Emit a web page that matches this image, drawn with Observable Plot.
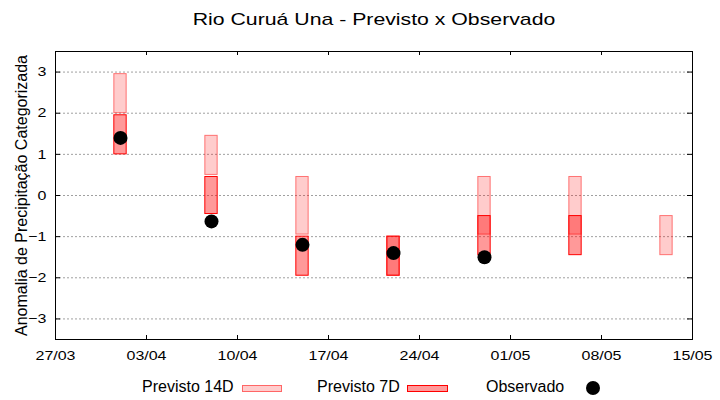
<!DOCTYPE html>
<html><head><meta charset="utf-8">
<script src="https://cdn.jsdelivr.net/npm/d3@7"></script>
<script src="https://cdn.jsdelivr.net/npm/@observablehq/plot@0.6"></script>
<style>
body{margin:0;background:#fff;}
#wrap{position:relative;width:720px;height:400px;font-family:"Liberation Sans",Arial,sans-serif;color:#000;overflow:hidden;background:#fff}
#title{position:absolute;top:11px;left:373.5px;font-size:17px;line-height:17px;white-space:nowrap;transform:translateX(-50%) scaleX(1.25);}
#chart{position:absolute;top:40px;left:0}
.leg{position:absolute;top:378.5px;font-size:16px;line-height:16px;white-space:nowrap}
.sw{position:absolute;box-sizing:border-box;}
</style></head>
<body>
<div id="wrap">
  <div id="title"></div>
  <div id="chart"></div>
  <div id="legend"></div>
</div>
<script>
const title = "Rio Curuá Una - Previsto x Observado";
const yLabel = "Anomalia de Precipitação Categorizada";
const legendLabels = ["Previsto 14D", "Previsto 7D", "Observado"];

const dates = ["2023-04-01","2023-04-08","2023-04-15","2023-04-22","2023-04-29","2023-05-06","2023-05-13"];
const p14Lo = [2.0, 0.5, -0.95, -1.95, -0.95, -0.95, -1.45];
const p14Hi = [2.95, 1.45, 0.45, -1.0, 0.45, 0.45, -0.5];
const p7Lo  = [1.0, -0.45, -1.95, -1.95, -1.45, -1.45, null];
const p7Hi  = [1.95, 0.45, -1.0, -1.0, -0.5, -0.5, null];
const obs   = [1.4, -0.63, -1.2, -1.4, -1.5, null, null];

const xTickDates = ["2023-03-27","2023-04-03","2023-04-10","2023-04-17","2023-04-24","2023-05-01","2023-05-08","2023-05-15"];
const yTickValues = [-3, -2, -1, 0, 1, 2, 3];

const parse = d3.utcParse("%Y-%m-%d");
const rows = dates.map((d, i) => ({date: parse(d), lo14: p14Lo[i], hi14: p14Hi[i], lo7: p7Lo[i], hi7: p7Hi[i], obs: obs[i]}));
const xt = xTickDates.map(parse);
const half = 0.475 * 864e5;
const W = 720, H = 330, mt = 11, mb = 31, ml = 55, mr = 28;
const pw = W - ml - mr, ph = H - mt - mb;

const plot = Plot.plot({
  width: W, height: H, marginTop: mt, marginBottom: mb, marginLeft: ml, marginRight: mr,
  style: {fontFamily: "Liberation Sans, Arial, sans-serif", fontSize: "13px", color: "#000", background: "#fff"},
  x: {type: "utc", domain: [xt[0], xt[xt.length - 1]], ticks: xt, tickFormat: d3.utcFormat("%d/%m"), tickSize: 0, tickPadding: 11, label: null},
  y: {domain: [-3.5, 3.5], ticks: yTickValues, tickFormat: d3.format("d"), tickSize: 0, tickPadding: 9, label: null},
  marks: [
    Plot.ruleY(yTickValues, {y: d => d, stroke: "#a0a0a0", strokeDasharray: "2,2"}),
    Plot.rect(rows.filter(r => r.lo7 != null), {x1: r => new Date(+r.date - half), x2: r => new Date(+r.date + half), y1: "lo7", y2: "hi7", fill: "red", fillOpacity: 0.4, stroke: "red"}),
    Plot.rect(rows, {x1: r => new Date(+r.date - half), x2: r => new Date(+r.date + half), y1: "lo14", y2: "hi14", fill: "red", fillOpacity: 0.2, stroke: "red", strokeOpacity: 0.5}),
    Plot.dot(rows.filter(r => r.obs != null), {x: "date", y: "obs", r: 7, fill: "black"}),
    Plot.frame({stroke: "black"}),
    Plot.tickX(xt, {x: d => d, insetTop: ph - 4, stroke: "black"}),
    Plot.tickX(xt, {x: d => d, insetBottom: ph - 4, stroke: "black"}),
    Plot.tickY(yTickValues, {y: d => d, insetRight: pw - 5, stroke: "black"}),
    Plot.tickY(yTickValues, {y: d => d, insetLeft: pw - 5, stroke: "black"}),
    Plot.text([yLabel], {text: d => d, frameAnchor: "left", textAnchor: "middle", rotate: -90, dx: -34, fontSize: 16, fill: "black"})
  ]
});

// widen axis tick labels horizontally around their anchor point
plot.querySelectorAll('g[aria-label^="x-axis"] text, g[aria-label^="y-axis"] text').forEach(t => {
  const tr = t.getAttribute("transform") || "";
  const xa = +(t.getAttribute("x") || 0);
  t.setAttribute("transform", `${tr} translate(${xa},0) scale(1.23,1) translate(${-xa},0)`);
});

document.getElementById("chart").appendChild(plot);
document.getElementById("title").textContent = title;

const legend = document.getElementById("legend");
function addText(txt, left) {
  const s = document.createElement("span");
  s.className = "leg"; s.textContent = txt; s.style.left = left + "px";
  legend.appendChild(s);
}
function addBox(left, top, w, h, bg, border, radius) {
  const b = document.createElement("div");
  b.className = "sw";
  Object.assign(b.style, {left: left + "px", top: top + "px", width: w + "px", height: h + "px", background: bg, border: border, borderRadius: radius || "0"});
  legend.appendChild(b);
}
addText(legendLabels[0], 142);
addBox(242, 385, 40, 7, "rgba(255,0,0,0.2)", "1px solid rgba(255,0,0,0.5)");
addText(legendLabels[1], 317);
addBox(407, 385, 41, 7, "rgba(255,0,0,0.4)", "1px solid red");
addText(legendLabels[2], 486);
addBox(586, 381, 14, 14, "black", "none", "50%");
</script>
</body></html>
